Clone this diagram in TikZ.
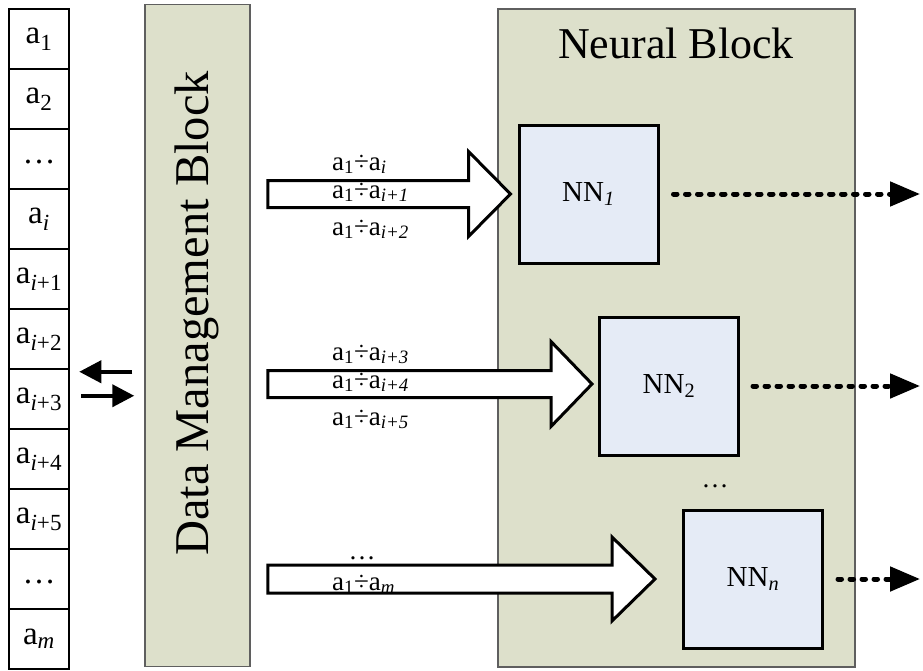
\documentclass[tikz,border=0pt]{standalone}
\usepackage{fontspec}
\setmainfont{Liberation Serif}
\usetikzlibrary{arrows.meta,calc}
\definecolor{blockfill}{RGB}{221,224,203}
\definecolor{blockline}{RGB}{95,95,95}
\definecolor{nnfill}{RGB}{229,235,246}
\newcommand{\subx}[1]{\textsubscript{#1}}
\newcommand{\hollowarrow}[5]{%
  \draw[hollow] ($(#1)+(0,#3)$) -- ($(#2)+(-#4,#3)$) -- ($(#2)+(-#4,#5)$) -- (#2)
    -- ($(#2)+(-#4,-#5)$) -- ($(#2)+(-#4,-#3)$) -- ($(#1)+(0,-#3)$) -- cycle;}
\begin{document}
\begin{tikzpicture}[x=1pt,y=-1pt,
  cell/.style={draw=black,line width=2.5pt,minimum width=60pt,minimum height=60pt,inner sep=0pt,font=\fontsize{33}{35}\selectfont},
  block/.style={draw=blockline,line width=1.5pt,fill=blockfill,inner sep=0pt},
  nnbox/.style={draw=black,line width=3pt,fill=nnfill,minimum width=139pt,minimum height=138pt,inner sep=0pt,font=\fontsize{29}{31}\selectfont},
  lbl/.style={anchor=base west,inner sep=0pt,font=\fontsize{27}{29}\selectfont},
  hollow/.style={draw=black,line width=3pt,fill=white,line join=miter},
  dotarrow/.style={line width=5pt,dash pattern=on 3.5pt off 8.5pt,line cap=round,-{Triangle[length=30pt,width=24pt]}},
  blkarrow/.style={line width=4pt,-{Triangle[length=22pt,width=22pt]}}
]
\useasboundingbox (0,0) rectangle (923,670);

% blocks
\node[block,minimum width=105pt,minimum height=662pt] (dmb) at (197.5,335.5) {};
\node[rotate=90,inner sep=0pt,font=\fontsize{48.5}{50}\selectfont] (dmbtext) at (197,313.5) {Data Management Block};
\node[block,minimum width=357pt,minimum height=658pt] (nb) at (676.5,338) {};
\node[anchor=base,inner sep=0pt,font=\fontsize{44}{46}\selectfont] (nbtitle) at (676,58) {Neural Block};

% memory column
\node[cell] (c1) at (39,39) {a\subx{1}};
\node[cell] (c2) at (39,99) {a\subx{2}};
\node[cell] (c3) at (39,159) {\vphantom{a\subx{1}}\ldots};
\node[cell] (c4) at (39,219) {a\subx{\textit{i}}};
\node[cell] (c5) at (39,279) {a\subx{\textit{i}+1}};
\node[cell] (c6) at (39,339) {a\subx{\textit{i}+2}};
\node[cell] (c7) at (39,399) {a\subx{\textit{i}+3}};
\node[cell] (c8) at (39,459) {a\subx{\textit{i}+4}};
\node[cell] (c9) at (39,519) {a\subx{\textit{i}+5}};
\node[cell] (c10) at (39,579) {\vphantom{a\subx{1}}\ldots};
\node[cell] (c11) at (39,639) {a\subx{\textit{m}}};

% exchange arrows
\draw[blkarrow,shorten <=12pt,shorten >=9pt] ([yshift=-4pt]c7.north -| dmb.west) -- ([yshift=-4pt]c7.north east);
\draw[blkarrow,shorten <=11pt,shorten >=10pt] ([yshift=-28pt]c7.north east) -- ([yshift=-28pt]c7.north -| dmb.west);

% NN boxes
\node[nnbox] (nn1) at (588.5,194) {NN\subx{\textit{1}}};
\node[nnbox] (nn2) at (669,386) {NN\subx{2}};
\node[nnbox] (nnn) at (753,579) {NN\subx{\textit{n}}};
\node[anchor=base,inner sep=0pt,font=\fontsize{27}{29}\selectfont] (nndots) at (715,487) {\ldots};

% hollow arrows
\coordinate (s1) at ($(dmb.east |- nn1)+(17,0)$);
\coordinate (t1) at ($(nn1.west)+(-7,0)$);
\coordinate (s2) at ($(dmb.east |- nn2)+(17,-2)$);
\coordinate (t2) at ($(nn2.west)+(-6,-2)$);
\coordinate (s3) at ($(dmb.east |- nnn)+(17,0)$);
\coordinate (t3) at ($(nnn.west)+(-27,0)$);
\hollowarrow{s1}{t1}{13.5}{42}{42.5}
\hollowarrow{s2}{t2}{13.5}{41}{42.5}
\hollowarrow{s3}{t3}{14}{43}{42}

% arrow labels
\node[lbl] (l11) at (332,170) {a\subx{1}÷a\subx{\textit{i}}};
\node[lbl] (l12) at (332,198) {a\subx{1}÷a\subx{\textit{i+1}}};
\node[lbl] (l13) at (332,235) {a\subx{1}÷a\subx{\textit{i+2}}};
\node[lbl] (l21) at (332,360) {a\subx{1}÷a\subx{\textit{i+3}}};
\node[lbl] (l22) at (332,388) {a\subx{1}÷a\subx{\textit{i+4}}};
\node[lbl] (l23) at (332,425) {a\subx{1}÷a\subx{\textit{i+5}}};
\node[lbl,anchor=base] (l31) at (362,559) {\ldots};
\node[lbl] (l32) at (332,590) {a\subx{1}÷a\subx{\textit{m}}};

% outputs
\coordinate (o1) at (920,194);
\coordinate (o2) at (920,386);
\coordinate (o3) at (920,579);
\draw[dotarrow,shorten <=14pt] (nn1.east) -- (o1);
\draw[dotarrow,shorten <=13pt] (nn2.east) -- (o2);
\draw[dotarrow,shorten <=14pt] (nnn.east) -- (o3);
\end{tikzpicture}
\end{document}
